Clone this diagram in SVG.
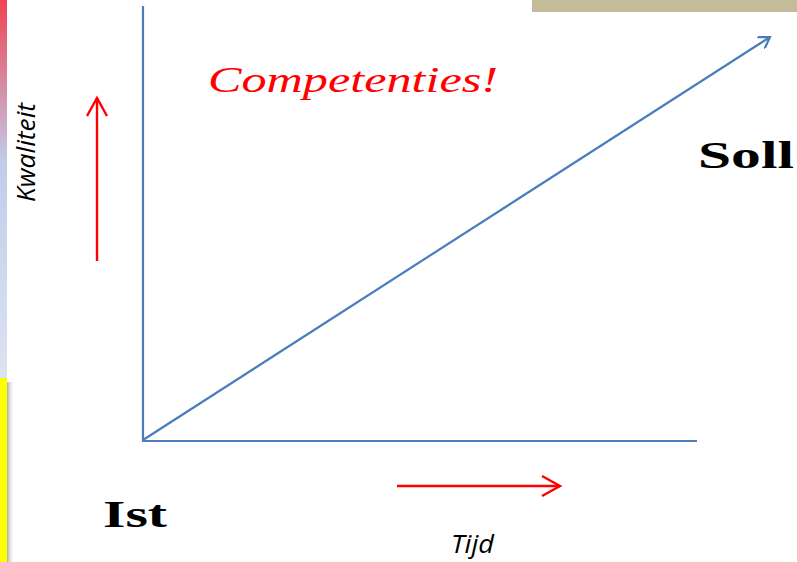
<svg xmlns="http://www.w3.org/2000/svg" width="797" height="562" viewBox="0 0 797 562">
<defs>
<linearGradient id="bar" x1="0" y1="0" x2="0" y2="1">
<stop offset="0" stop-color="#ee4450"/>
<stop offset="0.43" stop-color="#c0cdea"/>
<stop offset="1" stop-color="#dce3f2"/>
</linearGradient>
<linearGradient id="shadow" x1="0" y1="0" x2="1" y2="0">
<stop offset="0" stop-color="#999" stop-opacity="0.8"/>
<stop offset="1" stop-color="#fff" stop-opacity="0"/>
</linearGradient>
<marker id="blueHead" markerWidth="14" markerHeight="14" refX="11" refY="7" orient="auto" markerUnits="userSpaceOnUse" viewBox="0 0 14 14">
<path d="M0,0 L11,7 L0,14" fill="none" stroke="#4a7ebb" stroke-width="2.2"/>
</marker>
<marker id="redHead" markerWidth="24" markerHeight="24" refX="20" refY="12" orient="auto" markerUnits="userSpaceOnUse" viewBox="0 0 24 24">
<path d="M2,2 L20,12 L2,22" fill="none" stroke="#ff0000" stroke-width="2.4"/>
</marker>
</defs>
<style>
.axis{stroke:#4a7ebb;stroke-width:2.2;fill:none}
.red{stroke:#ff0000;stroke-width:2.4;fill:none}
.label{font-family:"Open Sans","Liberation Sans",sans-serif;font-style:italic;font-size:25px;fill:#000}
.gothic{font-family:"Liberation Serif","DejaVu Serif",serif;font-weight:bold;font-size:38px;fill:#000}
</style>
<rect x="0" y="0" width="797" height="562" fill="#ffffff"/>
<g id="decor">
<rect x="0" y="0" width="7" height="378" fill="url(#bar)"/>
<rect x="7" y="382" width="8" height="180" fill="url(#shadow)"/>
<rect x="0" y="378" width="7" height="184" fill="#ffff00"/>
<rect x="532" y="0" width="265" height="12" fill="#c4bc98"/>
</g>
<g id="connectors">
<line class="axis" x1="143" y1="6" x2="143" y2="441"/>
<line class="axis" x1="142" y1="441" x2="697" y2="441"/>
<line class="axis" x1="143" y1="440" x2="770" y2="37" marker-end="url(#blueHead)"/>
<line class="red" x1="97" y1="261" x2="97" y2="98" marker-end="url(#redHead)"/>
<line class="red" x1="397" y1="486" x2="560" y2="486" marker-end="url(#redHead)"/>
</g>
<g id="title">
<text x="208" y="92" font-family="'Liberation Serif','DejaVu Serif',serif" font-style="italic" font-size="36" fill="#ff0000" textLength="290" lengthAdjust="spacingAndGlyphs">Competenties!</text>
</g>
<g id="soll"><text class="gothic" x="698" y="168" textLength="96" lengthAdjust="spacingAndGlyphs">Soll</text></g>
<g id="ist"><text class="gothic" x="103" y="527" textLength="64" lengthAdjust="spacingAndGlyphs">Ist</text></g>
<g id="kwaliteit"><text class="label" transform="translate(35,202) rotate(-90)" textLength="99" lengthAdjust="spacingAndGlyphs">Kwaliteit</text></g>
<g id="tijd"><text class="label" x="451" y="553" textLength="43" lengthAdjust="spacingAndGlyphs">Tijd</text></g>
</svg>
